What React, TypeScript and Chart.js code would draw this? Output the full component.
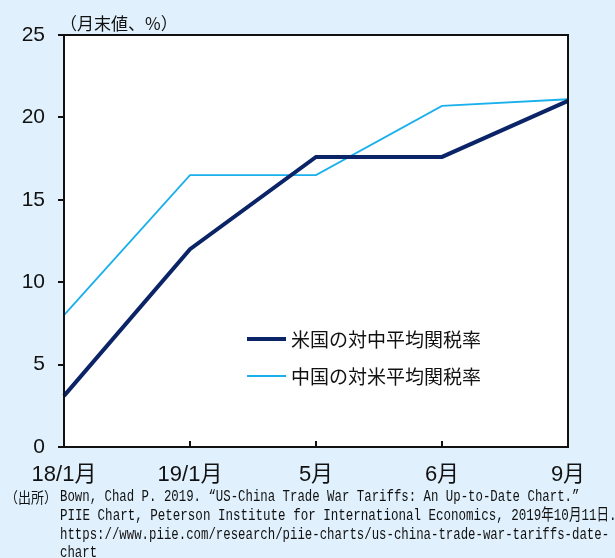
import React, { useEffect, useRef } from "react";
import { Chart, registerables } from "chart.js";

Chart.register(...registerables);

const categories = ["18/1月", "19/1月", "5月", "6月", "9月"];
const usTariffOnChina = [3.1, 12.0, 17.6, 17.6, 21.0];
const chinaTariffOnUS = [8.0, 16.5, 16.5, 20.7, 21.1];
const seriesNames = ["米国の対中平均関税率", "中国の対米平均関税率"];
const yTicks = [0, 5, 10, 15, 20, 25];
const unitLabel = "（月末値、%）";
const sourceLabel = "（出所）";
const sourceLines = [
  "Bown, Chad P. 2019. “US-China Trade War Tariffs: An Up-to-Date Chart.”",
  "PIIE Chart, Peterson Institute for International Economics, 2019年10月11日.",
  "https://www.piie.com/research/piie-charts/us-china-trade-war-tariffs-date-",
  "chart",
];

const BG = "#e0f1fd";
const NAVY = "#0b2468";
const CYAN = "#1ab0ec";
const AXIS_FONT = '"Liberation Sans Narrow", "Liberation Sans", "Noto Sans CJK JP", sans-serif';
const JP_FONT = '"Noto Sans CJK JP", sans-serif';
const MONO_FONT = '"Liberation Mono", "Noto Sans CJK JP", monospace';

function halfUnits(s: string): number {
  let n = 0;
  for (const ch of s) n += ch.charCodeAt(0) > 0x2000 && !"“”".includes(ch) ? 2 : 1;
  return n;
}

const decor = {
  id: "decor",
  beforeDraw(chart: any) {
    const { ctx, chartArea: a, width, height } = chart;
    ctx.save();
    ctx.fillStyle = BG;
    ctx.fillRect(0, 0, width, height);
    ctx.fillStyle = "#ffffff";
    ctx.fillRect(a.left, a.top, a.right - a.left, a.bottom - a.top);
    ctx.restore();
  },
  afterDraw(chart: any) {
    const { ctx, chartArea: a } = chart;
    const xs = chart.scales.x;
    const ys = chart.scales.y;
    ctx.save();
    // frame
    ctx.strokeStyle = "#111111";
    ctx.lineWidth = 2;
    ctx.strokeRect(a.left, a.top, a.right - a.left, a.bottom - a.top);
    // y ticks (outward)
    ctx.beginPath();
    for (const v of yTicks) {
      const y = Math.round(ys.getPixelForValue(v));
      ctx.moveTo(a.left - 6, y);
      ctx.lineTo(a.left, y);
    }
    // x ticks (inward)
    for (let i = 1; i < categories.length - 1; i++) {
      const x = Math.round(xs.getPixelForValue(i));
      ctx.moveTo(x, a.bottom);
      ctx.lineTo(x, a.bottom - 6);
    }
    ctx.stroke();

    // legend inside plot
    const ds = chart.data.datasets;
    const lx = a.left + 183;
    const lyStart = a.top + 304;
    ds.forEach((d: any, i: number) => {
      const y = lyStart + i * 37;
      ctx.strokeStyle = d.borderColor;
      ctx.lineWidth = d.borderWidth;
      ctx.beginPath();
      ctx.moveTo(lx, y);
      ctx.lineTo(lx + 39, y);
      ctx.stroke();
      ctx.fillStyle = "#111111";
      ctx.font = `19px ${JP_FONT}`;
      ctx.textBaseline = "middle";
      ctx.textAlign = "left";
      ctx.fillText(d.label, lx + 44, y + 1);
    });

    // unit label
    ctx.fillStyle = "#111111";
    ctx.font = `17px ${JP_FONT}`;
    ctx.textBaseline = "middle";
    ctx.fillText(unitLabel, 60, 24);

    // source
    ctx.font = `15px ${JP_FONT}`;
    ctx.fillText(sourceLabel, 5, 497, 52);
    ctx.font = `16px ${MONO_FONT}`;
    sourceLines.forEach((line, i) => {
      ctx.fillText(line, 60, 497 + i * 18.7, halfUnits(line) * 7.42);
    });
    ctx.restore();
  },
};

export default function App() {
  const ref = useRef<HTMLCanvasElement | null>(null);
  useEffect(() => {
    if (!ref.current) return;
    const chart = new Chart(ref.current, {
      type: "line",
      data: {
        labels: categories,
        datasets: [
          {
            label: seriesNames[0],
            data: usTariffOnChina,
            borderColor: NAVY,
            backgroundColor: NAVY,
            borderWidth: 4,
            pointRadius: 0,
            tension: 0,
            fill: false,
          },
          {
            label: seriesNames[1],
            data: chinaTariffOnUS,
            borderColor: CYAN,
            backgroundColor: CYAN,
            borderWidth: 1.8,
            pointRadius: 0,
            tension: 0,
            fill: false,
          },
        ],
      },
      options: {
        responsive: false,
        animation: false,
        devicePixelRatio: 1,
        layout: { padding: { top: 35, right: 47, left: 0, bottom: 0 } },
        plugins: { legend: { display: false }, tooltip: { enabled: false } },
        scales: {
          x: {
            type: "category",
            offset: false,
            grid: { display: false, drawTicks: false },
            border: { display: false },
            ticks: {
              color: "#111111",
              font: { size: 22, family: AXIS_FONT },
              padding: 15,
              maxRotation: 0,
              autoSkip: false,
            },
            afterFit: (s: any) => {
              s.height = 111;
            },
          },
          y: {
            min: 0,
            max: 25,
            grid: { display: false, drawTicks: false },
            border: { display: false },
            ticks: {
              stepSize: 5,
              color: "#111111",
              font: { size: 21, family: AXIS_FONT },
              padding: 19,
            },
            afterFit: (s: any) => {
              s.width = 64;
            },
          },
        },
      },
      plugins: [decor],
    });
    return () => chart.destroy();
  }, []);
  return (
    <div style={{ position: "absolute", left: 0, top: 0, width: 615, height: 558 }}>
      <canvas ref={ref} width={615} height={558} style={{ display: "block" }} />
    </div>
  );
}
